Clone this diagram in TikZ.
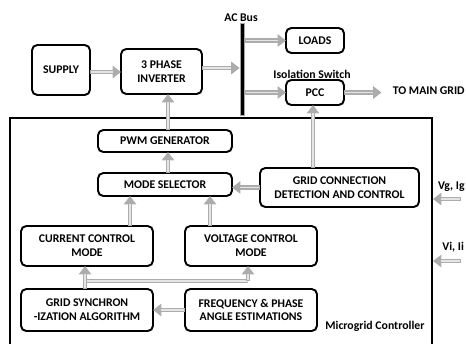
\documentclass[tikz,border=0pt]{standalone}
\usepackage{fontspec}
\setmainfont{Carlito}
\usetikzlibrary{arrows.meta,calc}
\begin{document}
\begin{tikzpicture}[x=0.02cm,y=-0.02cm,
  font=\fontsize{6.7}{7.9}\selectfont\bfseries,
  box/.style={draw=black, line width=1.1pt, rounded corners=3pt, inner sep=0pt, outer sep=0pt, align=center, fill=white},
  garrow/.style={draw=gray!65, line width=2.8pt, -{Triangle[length=4.8pt,width=7pt]},
    postaction={draw=gray!20, line width=1pt, -, shorten >=4.8pt, shorten <=0.8pt}},
  gline/.style={draw=gray!65, line width=2.8pt,
    postaction={draw=gray!20, line width=1pt}},
  lbl/.style={inner sep=0pt}]
\useasboundingbox (0,0) rectangle (466,343);
% microgrid controller frame
\draw[line width=0.9pt] (10,346) -- (10,118) -- (432,118) -- (432,346);
% nodes
\node[box, minimum width=1.16cm, minimum height=1.0cm] (supply) at (61,70) {SUPPLY};
\node[box, minimum width=1.62cm, minimum height=0.9cm] (inverter) at (161.5,71.5) {3 PHASE\\INVERTER};
\node[fill=black, draw=gray!70, line width=0.4pt, minimum width=0.08cm, minimum height=1.84cm, inner sep=0pt] (bus) at (242,69) {};
\node[lbl] (acbus) at (241,18) {AC Bus};
\node[box, minimum width=1.16cm, minimum height=0.5cm] (loads) at (315,40.5) {LOADS};
\node[box, minimum width=1.16cm, minimum height=0.5cm] (pcc) at (315,92.5) {PCC};
\node[lbl] (iso) at (312,74) {Isolation Switch};
\node[lbl, anchor=east] (main) at (465,91) {TO MAIN GRID};
\node[box, minimum width=2.68cm, minimum height=0.44cm] (pwm) at (165,141) {PWM GENERATOR};
\node[box, minimum width=2.68cm, minimum height=0.46cm] (mode) at (165,184.5) {MODE SELECTOR};
\node[box, minimum width=3.18cm, minimum height=0.78cm] (gcon) at (339.5,187.5) {GRID CONNECTION\\DETECTION AND CONTROL};
\node[box, minimum width=2.64cm, minimum height=0.8cm] (cur) at (87,246) {CURRENT CONTROL\\MODE};
\node[box, minimum width=2.64cm, minimum height=0.8cm] (volt) at (251,246) {VOLTAGE CONTROL\\MODE};
\node[box, minimum width=2.64cm, minimum height=0.84cm] (sync) at (87,310) {GRID SYNCHRON\\-IZATION ALGORITHM};
\node[box, minimum width=2.64cm, minimum height=0.84cm] (freq) at (251,310) {FREQUENCY \& PHASE\\ANGLE ESTIMATIONS};
\node[lbl, anchor=west] (mgc) at (325,326) {Microgrid Controller};
\node[lbl, anchor=east] (vg) at (465,187) {Vg, Ig};
\node[lbl, anchor=west] (vi) at (442,247) {Vi, Ii};
% coordinates
\coordinate (vgs) at (461,199);
\coordinate (vge) at (433,199);
\coordinate (vis) at (461,261);
\coordinate (vie) at (433,261);
\coordinate (cx) at (130,0);
\coordinate (vx) at (210,0);
\coordinate (sx) at (85,0);
\coordinate (tx) at (248,0);
\coordinate (hy) at (0,281);
% arrows
\draw[garrow] ([yshift=-0.04cm]supply.east) -- ([yshift=-0.04cm]supply.east -| inverter.west);
\draw[garrow] ([yshift=0.07cm]inverter.east) -- ([yshift=0.07cm]inverter.east -| bus.west);
\draw[garrow] (bus.east |- loads.west) -- (loads.west);
\draw[garrow] (bus.east |- pcc.west) -- (pcc.west);
\draw[garrow] (pcc.east) -- ([xshift=-0.22cm]main.west |- pcc.east);
\draw[garrow] ([xshift=-0.04cm]gcon.north -| pcc.south) -- ([xshift=-0.04cm]pcc.south);
\draw[garrow] ([xshift=0.06cm]pwm.north) -- ([xshift=0.06cm]pwm.north |- inverter.south);
\draw[garrow] ([xshift=0.06cm]mode.north) -- ([xshift=0.06cm]pwm.south);
\draw[garrow] (gcon.west) -- (gcon.west -| mode.east);
\draw[garrow] (cur.north -| cx) -- (mode.south -| cx);
\draw[garrow] (volt.north -| vx) -- (mode.south -| vx);
\draw[gline] (sx |- hy) -- (tx |- hy);
\draw[garrow] (sync.north -| sx) -- (cur.south -| sx);
\draw[garrow] (tx |- hy) -- (volt.south -| tx);
\draw[garrow] (freq.west) -- (sync.east);
\draw[garrow] (vgs) -- (vge);
\draw[garrow] (vis) -- (vie);
\end{tikzpicture}
\end{document}
